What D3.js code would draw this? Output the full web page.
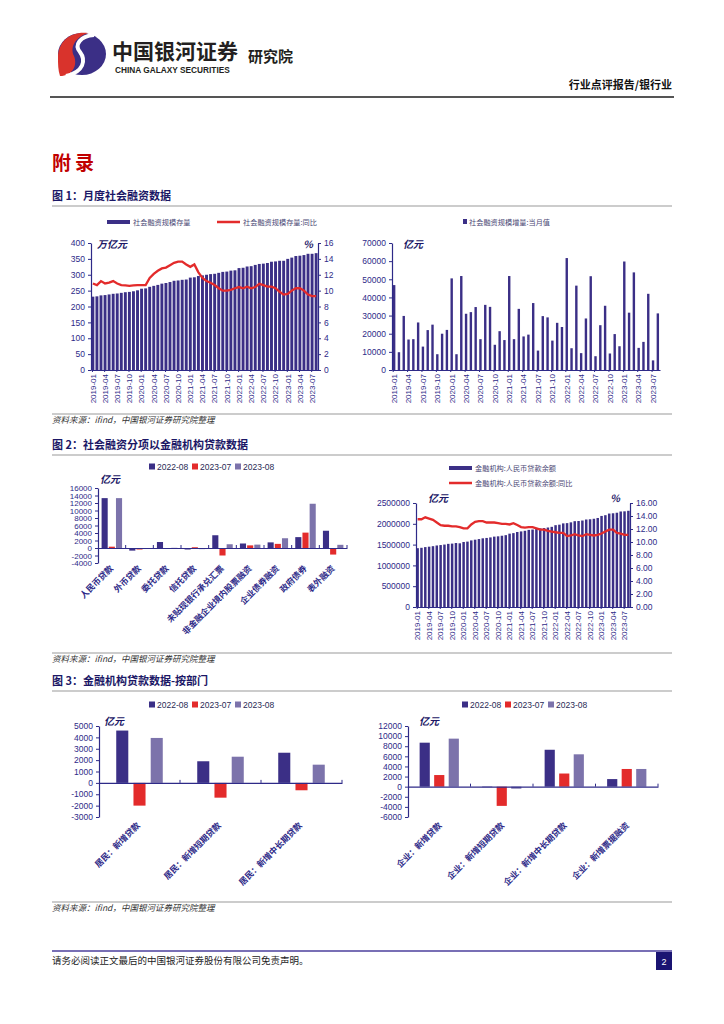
<!DOCTYPE html>
<html>
<head>
<meta charset="utf-8">
<script src="https://cdn.jsdelivr.net/npm/d3@7"></script>
<style>
  body { margin: 0; background: #fff; }
  svg { display: block; }
  text { font-family: "Noto Sans CJK SC", "Liberation Sans", sans-serif; }
  .num { font-family: "Liberation Sans", Arial, sans-serif; }
</style>
</head>
<body>
<div id="page"></div>
<script>
// ---- data ----
const years = [2019, 2020, 2021, 2022, 2023];
const months = [];
years.forEach((y) => {
  for (let m = 1; m <= 12; m++) {
    if (y === 2023 && m > 8) break;
    months.push(y + "-" + String(m).padStart(2, "0"));
  }
});
const monthTicks = months.filter((d, i) => i % 3 === 0);

// 社会融资规模存量 (万亿元)
const tsfStock = [
  231, 232, 235, 236, 238, 240, 241, 243, 245, 246, 248, 251,
  256, 257, 262, 265, 268, 272, 274, 277, 281, 282, 284, 285,
  291, 292, 296, 298, 300, 302, 303, 306, 309, 310, 313, 314,
  321, 322, 326, 327, 331, 334, 335, 337, 341, 342, 344, 344,
  350, 354, 359, 360, 362, 366, 366, 368
];
// 社会融资规模存量:同比 (%)
const tsfStockYoy = [
  10.9, 10.7, 11.2, 10.9, 11.0, 11.2, 10.9, 10.7, 10.65, 10.6, 10.65, 10.7,
  10.7, 10.7, 11.6, 12.1, 12.5, 12.8, 12.9, 13.2, 13.5, 13.65, 13.65, 13.3,
  13.0, 13.3, 12.3, 11.6, 11.2, 11.0, 10.7, 10.3, 10.0, 10.0, 10.1, 10.3,
  10.45, 10.3, 10.5, 10.3, 10.45, 10.85, 10.7, 10.5, 10.5, 10.3, 9.85, 9.5,
  9.6, 10.0, 10.3, 10.3, 10.0, 9.5, 9.3, 9.3
];
// 社会融资规模增量:当月值 (亿元)
const tsfFlow = [
  46800, 9800, 29800, 16800, 17000, 26200, 12900, 22000, 25000, 8700, 20000, 22100,
  50500, 8700, 51800, 31000, 31900, 34700, 17000, 35900, 34800, 13900, 21400, 16500,
  51800, 17000, 33700, 18500, 19500, 36900, 10700, 29700, 29000, 16200, 26000, 23700,
  61700, 12000, 46500, 9300, 28400, 51700, 7600, 24700, 35400, 9100, 19800, 13100,
  59800, 31600, 53800, 12200, 15500, 42000, 5300, 31200
];

// 图2 左: 社会融资分项
const series3 = ["2022-08", "2023-07", "2023-08"];
const tsfItems = ["人民币贷款", "外币贷款", "委托贷款", "信托贷款", "未贴现银行承兑汇票",
  "非金融企业境内股票融资", "企业债券融资", "政府债券", "表外融资"];
const tsfItems2208 = [13300, -700, 1600, -400, 3400, 1200, 1500, 2900, 4600];
const tsfItems2307 = [350, -400, -50, 200, -2000, 700, 1100, 4100, -1750];
const tsfItems2308 = [13300, -100, 50, -300, 1000, 900, 2600, 11800, 850];

// 图2 右: 金融机构人民币贷款余额 (亿元) 与同比 (%)
const loanBal = [
  1414000, 1423000, 1440000, 1450000, 1462000, 1479000, 1489000, 1501000, 1518000, 1524000, 1538000, 1531000,
  1563000, 1572000, 1601000, 1618000, 1633000, 1651000, 1660000, 1673000, 1692000, 1699000, 1713000, 1727000,
  1763000, 1776000, 1803000, 1817000, 1832000, 1854000, 1862000, 1874000, 1890000, 1898000, 1911000, 1927000,
  1967000, 1979000, 2010000, 2016000, 2035000, 2063000, 2067000, 2079000, 2103000, 2109000, 2121000, 2140000,
  2189000, 2207000, 2246000, 2253000, 2266000, 2296000, 2300000, 2313000
];
const loanBalYoy = [
  13.5, 13.5, 13.8, 13.6, 13.4, 13.0, 12.6, 12.5, 12.5, 12.4, 12.4, 12.3,
  12.1, 12.1, 12.7, 13.1, 13.2, 13.2, 13.0, 13.0, 13.0, 12.9, 12.8, 12.8,
  12.7, 12.9, 12.6, 12.3, 12.2, 12.3, 12.3, 12.1, 11.9, 11.9, 11.7, 11.6,
  11.5, 11.4, 11.4, 10.9, 11.0, 11.2, 11.0, 10.9, 11.2, 11.1, 11.0, 11.1,
  11.3, 11.6, 11.9, 11.9, 11.4, 11.3, 11.1, 11.1
];

// 图3 左: 居民
const hhItems = ["居民：新增贷款", "居民：新增短期贷款", "居民：新增中长期贷款"];
const hh2208 = [4600, 1900, 2650];
const hh2307 = [-2000, -1300, -650];
const hh2308 = [3950, 2300, 1600];

// 图3 右: 企业
const corpItems = ["企业：新增贷款", "企业：新增短期贷款", "企业：新增中长期贷款", "企业：新增票据融资"];
const corp2208 = [8700, -100, 7300, 1500];
const corp2307 = [2300, -3800, 2600, 3500];
const corp2308 = [9500, -400, 6400, 3500];

// ---- styles ----
const NAVY = "#3b2f86";
const RED = "#e32b2b";
const LILAC = "#7c73ab";
const AXIS = "#2e2a88";
const TXT = "#2e2a88";
const plain = (d) => String(d);

const svg = d3.select("#page").append("svg").attr("width", 724).attr("height", 1024);

// ---- header ----
const logo = svg.append("g");
logo.append("ellipse").attr("cx", 82).attr("cy", 54).attr("rx", 24).attr("ry", 21).attr("fill", NAVY);
logo.append("path").attr("d", "M58,58 C58,40 72,31 88,33 C74,38 70,48 74,56 C78,66 72,76 60,76 C58,70 58,64 58,58 Z").attr("fill", "#d9332c");
logo.append("path").attr("d", "M94,35 C80,36 74,45 80,52 C86,60 84,72 66,76").attr("fill", "none").attr("stroke", "#fff").attr("stroke-width", 4);
svg.append("text").attr("x", 112).attr("y", 59).attr("font-size", 21).attr("font-weight", 700).attr("fill", "#231f20").text("中国银河证券");
svg.append("text").attr("class", "num").attr("x", 115).attr("y", 73).attr("font-size", 8.3).attr("font-weight", 700).attr("fill", "#231f20").text("CHINA GALAXY SECURITIES");
svg.append("text").attr("x", 248).attr("y", 62).attr("font-size", 15).attr("font-weight", 700).attr("fill", "#231f20").text("研究院");
svg.append("text").attr("x", 672).attr("y", 89).attr("text-anchor", "end").attr("font-size", 11).attr("font-weight", 700).attr("fill", "#111").text("行业点评报告/银行业");
svg.append("line").attr("x1", 50).attr("x2", 674).attr("y1", 97).attr("y2", 97).attr("stroke", "#555").attr("stroke-width", 2);

svg.append("text").attr("x", 52).attr("y", 170).attr("font-size", 19).attr("font-weight", 700).attr("fill", "#c00000").attr("letter-spacing", 4).text("附录");

function heading(y, label) {
  svg.append("text").attr("x", 52).attr("y", y).attr("font-size", 11).attr("font-weight", 700).attr("fill", "#1b1766").text(label);
  svg.append("line").attr("x1", 52).attr("x2", 672).attr("y1", y + 6).attr("y2", y + 6).attr("stroke", "#999").attr("stroke-width", 1);
}
function source(y) {
  svg.append("line").attr("x1", 52).attr("x2", 672).attr("y1", y - 9).attr("y2", y - 9).attr("stroke", "#999").attr("stroke-width", 1);
  svg.append("text").attr("x", 52).attr("y", y).attr("font-size", 8.5).attr("font-style", "italic").attr("fill", "#333").text("资料来源：ifind，中国银河证券研究院整理");
}
heading(200, "图 1：月度社会融资数据");
source(423);
heading(449, "图 2：社会融资分项以金融机构贷款数据");
source(662);
heading(685, "图 3：金融机构贷款数据-按部门");
source(911);

// footer
svg.append("line").attr("x1", 52).attr("x2", 672).attr("y1", 951).attr("y2", 951).attr("stroke", "#4b3f9c").attr("stroke-width", 1.5);
svg.append("text").attr("x", 52).attr("y", 964).attr("font-size", 9.5).attr("fill", "#222").text("请务必阅读正文最后的中国银河证券股份有限公司免责声明。");
svg.append("rect").attr("x", 656).attr("y", 952).attr("width", 16).attr("height", 18).attr("fill", "#1a1472");
svg.append("text").attr("class", "num").attr("x", 664).attr("y", 965).attr("text-anchor", "middle").attr("font-size", 9).attr("fill", "#fff").text("2");

// ---- helpers ----
function styleAxis(g, size) {
  g.selectAll(".domain").attr("stroke", AXIS).attr("stroke-width", 1.2);
  g.selectAll(".tick line").attr("stroke", AXIS);
  g.selectAll("text").attr("class", "num").attr("fill", TXT).attr("font-size", size || 8.5);
}
function unitLabel(x, y, t, anchor) {
  svg.append("text").attr("x", x).attr("y", y).attr("font-size", 10).attr("font-weight", 700)
    .attr("font-style", "italic").attr("text-anchor", anchor || "start").attr("fill", "#1b1766").text(t);
}
function monthAxis(x, yPos) {
  const g = svg.append("g").attr("transform", "translate(0," + yPos + ")")
    .call(d3.axisBottom(x).tickValues(monthTicks).tickSize(2).tickSizeOuter(0));
  styleAxis(g, 8);
  g.selectAll("text").attr("transform", "rotate(-90)").attr("x", -4).attr("y", 0)
    .attr("dy", "0.35em").style("text-anchor", "end");
  g.selectAll(".tick line").attr("transform", "translate(" + (-x.step() * x.paddingOuter()) + ",0)");
}
function lineLegend(x, y, color, label, w) {
  svg.append("line").attr("x1", x).attr("x2", x + (w || 23)).attr("y1", y).attr("y2", y)
    .attr("stroke", color).attr("stroke-width", color === RED ? 2.5 : 4);
  svg.append("text").attr("x", x + (w || 23) + 3).attr("y", y + 3).attr("font-size", 7.2).attr("fill", "#4a4875").text(label);
}
function boxLegend(x, y, color, label) {
  svg.append("rect").attr("x", x).attr("y", y - 3.5).attr("width", 6).attr("height", 6).attr("fill", color);
  svg.append("text").attr("class", "num").attr("x", x + 8).attr("y", y + 3).attr("font-size", 8.5).attr("fill", "#2a2a55").text(label);
}

// ---- chart 1 left: 存量 + 同比 ----
{
  const x = d3.scaleBand().domain(months).range([91, 318]).paddingInner(0.28).paddingOuter(0.1);
  const y = d3.scaleLinear().domain([0, 400]).range([370, 243]);
  const y2 = d3.scaleLinear().domain([0, 16]).range([370, 243]);
  svg.append("g").selectAll("rect").data(months).join("rect")
    .attr("x", (d) => x(d)).attr("width", x.bandwidth())
    .attr("y", (d, i) => y(tsfStock[i])).attr("height", (d, i) => y(0) - y(tsfStock[i]))
    .attr("fill", NAVY);
  svg.append("path").datum(tsfStockYoy)
    .attr("fill", "none").attr("stroke", RED).attr("stroke-width", 2.3)
    .attr("d", d3.line().x((d, i) => x(months[i]) + x.bandwidth() / 2).y((d) => y2(d)));
  const gl = svg.append("g").attr("transform", "translate(91,0)")
    .call(d3.axisLeft(y).tickValues(d3.range(0, 401, 50)).tickFormat(plain).tickSize(3).tickSizeOuter(0));
  styleAxis(gl);
  const gr = svg.append("g").attr("transform", "translate(318,0)")
    .call(d3.axisRight(y2).tickValues(d3.range(0, 17, 2)).tickFormat(plain).tickSize(3).tickSizeOuter(0));
  styleAxis(gr);
  monthAxis(x, 370);
  unitLabel(97, 248, "万亿元");
  unitLabel(313, 248, "%", "end");
  lineLegend(107, 222, NAVY, "社会融资规模存量");
  lineLegend(217, 222, RED, "社会融资规模存量:同比");
}

// ---- chart 1 right: 当月增量 ----
{
  const x = d3.scaleBand().domain(months).range([392, 660]).paddingInner(0.5).paddingOuter(0.2);
  const y = d3.scaleLinear().domain([0, 70000]).range([370, 243]);
  svg.append("g").selectAll("rect").data(months).join("rect")
    .attr("x", (d) => x(d)).attr("width", x.bandwidth())
    .attr("y", (d, i) => y(tsfFlow[i])).attr("height", (d, i) => y(0) - y(tsfFlow[i]))
    .attr("fill", NAVY);
  const gl = svg.append("g").attr("transform", "translate(392,0)")
    .call(d3.axisLeft(y).tickValues(d3.range(0, 70001, 10000)).tickFormat(plain).tickSize(3).tickSizeOuter(0));
  styleAxis(gl);
  monthAxis(x, 370);
  unitLabel(403, 248, "亿元");
  svg.append("rect").attr("x", 463).attr("y", 219).attr("width", 4).attr("height", 5).attr("fill", NAVY);
  svg.append("text").attr("x", 469).attr("y", 225).attr("font-size", 7.2).attr("fill", "#4a4875").text("社会融资规模增量:当月值");
}

// grouped bar chart helper
function groupedBars(cfg) {
  const x = d3.scaleBand().domain(cfg.cats).range([cfg.x0, cfg.x1]);
  const xs = d3.scaleBand().domain(series3).range([0, x.bandwidth()])
    .paddingInner(cfg.inner).paddingOuter(cfg.outer);
  const y = d3.scaleLinear().domain(cfg.domain).range([cfg.yb, cfg.yt]);
  const colors = [NAVY, RED, LILAC];
  cfg.values.forEach((vals, si) => {
    svg.append("g").selectAll("rect").data(cfg.cats).join("rect")
      .attr("x", (d) => x(d) + xs(series3[si])).attr("width", xs.bandwidth())
      .attr("y", (d, i) => y(Math.max(0, vals[i])))
      .attr("height", (d, i) => Math.abs(y(vals[i]) - y(0)))
      .attr("fill", colors[si]);
  });
  const gl = svg.append("g").attr("transform", "translate(" + cfg.x0 + ",0)")
    .call(d3.axisLeft(y).tickValues(d3.range(cfg.domain[0], cfg.domain[1] + 1, cfg.step))
      .tickFormat(plain).tickSize(3).tickSizeOuter(0));
  styleAxis(gl, cfg.fs || 8.5);
  // zero line with category separators
  const gz = svg.append("g").attr("transform", "translate(0," + y(0) + ")")
    .call(d3.axisBottom(x).tickValues([]).tickSizeOuter(0));
  styleAxis(gz);
  svg.append("g").selectAll("line").data(cfg.cats).join("line")
    .attr("x1", (d) => x(d) + x.bandwidth()).attr("x2", (d) => x(d) + x.bandwidth())
    .attr("y1", y(0) - 3).attr("y2", y(0)).attr("stroke", AXIS);
  svg.append("g").selectAll("text").data(cfg.cats).join("text")
    .attr("transform", (d) => "translate(" + (x(d) + x.bandwidth() / 2 + cfg.ldx) + "," + cfg.ly + ") rotate(-45)")
    .attr("text-anchor", "end").attr("font-size", cfg.lfs).attr("font-weight", 700).attr("fill", TXT)
    .text((d) => d);
  series3.forEach((s, i) => boxLegend(cfg.legX + i * cfg.legDx, cfg.legY, colors[i], s));
  unitLabel(cfg.unitX, cfg.unitY, "亿元");
}

// ---- chart 2 left ----
groupedBars({
  cats: tsfItems, values: [tsfItems2208, tsfItems2307, tsfItems2308],
  x0: 98, x1: 347, domain: [-4000, 16000], step: 2000, yb: 563, yt: 488,
  inner: 0.15, outer: 0.5, ldx: 2, ly: 569, lfs: 8.5, fs: 8,
  legX: 149, legDx: 43, legY: 467, unitX: 100, unitY: 483
});

// ---- chart 2 right: 贷款余额 + 同比 ----
{
  const x = d3.scaleBand().domain(months).range([416, 630]).paddingInner(0.35).paddingOuter(0.1);
  const y = d3.scaleLinear().domain([0, 2500000]).range([607, 503]);
  const y2 = d3.scaleLinear().domain([0, 16]).range([607, 503]);
  svg.append("g").selectAll("rect").data(months).join("rect")
    .attr("x", (d) => x(d)).attr("width", x.bandwidth())
    .attr("y", (d, i) => y(loanBal[i])).attr("height", (d, i) => y(0) - y(loanBal[i]))
    .attr("fill", NAVY);
  svg.append("path").datum(loanBalYoy)
    .attr("fill", "none").attr("stroke", RED).attr("stroke-width", 2.3)
    .attr("d", d3.line().x((d, i) => x(months[i]) + x.bandwidth() / 2).y((d) => y2(d)));
  const gl = svg.append("g").attr("transform", "translate(416,0)")
    .call(d3.axisLeft(y).tickValues(d3.range(0, 2500001, 500000)).tickFormat(plain).tickSize(3).tickSizeOuter(0));
  styleAxis(gl);
  const gr = svg.append("g").attr("transform", "translate(630,0)")
    .call(d3.axisRight(y2).tickValues(d3.range(0, 17, 2)).tickFormat(d3.format(".2f")).tickSize(3).tickSizeOuter(0));
  styleAxis(gr);
  monthAxis(x, 607);
  unitLabel(428, 502, "亿元");
  unitLabel(620, 502, "%", "end");
  lineLegend(449, 468, NAVY, "金融机构:人民币贷款余额");
  lineLegend(449, 483, RED, "金融机构:人民币贷款余额:同比");
}

// ---- chart 3 left: 居民 ----
groupedBars({
  cats: hhItems, values: [hh2208, hh2307, hh2308],
  x0: 99, x1: 342, domain: [-3000, 5000], step: 1000, yb: 817, yt: 726,
  inner: 0.3, outer: 1.0, ldx: 1, ly: 826, lfs: 8.5,
  legX: 149, legDx: 43, legY: 705, unitX: 104, unitY: 725
});

// ---- chart 3 right: 企业 ----
groupedBars({
  cats: corpItems, values: [corp2208, corp2307, corp2308],
  x0: 408, x1: 658, domain: [-6000, 12000], step: 2000, yb: 817, yt: 726,
  inner: 0.3, outer: 0.8, ldx: 3, ly: 826, lfs: 8.5,
  legX: 462, legDx: 43, legY: 705, unitX: 419, unitY: 725
});
</script>
</body>
</html>
